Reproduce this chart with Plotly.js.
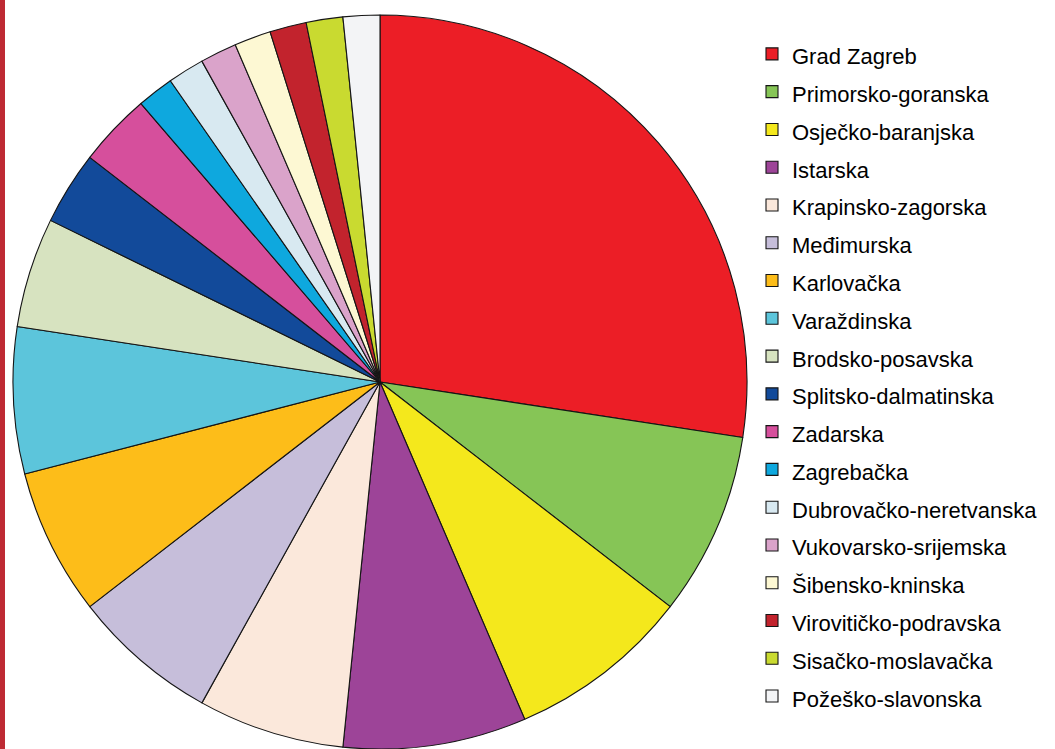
<!DOCTYPE html>
<html>
<head>
<meta charset="utf-8">
<script src="https://cdn.plot.ly/plotly-3.0.1.min.js"></script>
<style>
  html, body { margin: 0; padding: 0; background: #ffffff; }
  #chart { width: 1055px; height: 749px; }
</style>
</head>
<body>
<div id="chart"></div>
<script>
// Counties (županije) and their counts
const categories = [
  "Grad Zagreb", "Primorsko-goranska", "Osječko-baranjska", "Istarska",
  "Krapinsko-zagorska", "Međimurska", "Karlovačka", "Varaždinska",
  "Brodsko-posavska", "Splitsko-dalmatinska", "Zadarska", "Zagrebačka",
  "Dubrovačko-neretvanska", "Vukovarsko-srijemska", "Šibensko-kninska",
  "Virovitičko-podravska", "Sisačko-moslavačka", "Požeško-slavonska"
];
const values = [17, 5, 5, 5, 4, 4, 4, 4, 3, 2, 2, 1, 1, 1, 1, 1, 1, 1];
const sliceColors = [
  "#EC1E26", "#86C556", "#F4E81C", "#9D4498",
  "#FBE8DB", "#C6BEDA", "#FDBD19", "#5CC5DB",
  "#D7E3C0", "#124A9A", "#D64F9C", "#0EA8DE",
  "#D8E9F1", "#DAA3CA", "#FDF8D3", "#C2232D",
  "#C9DA30", "#F3F4F6"
];

const W = 1055, H = 749;
const legendLabels = categories.map(c => '<span style="font-size:22px">' + c + '</span>');

const trace = {
  type: "pie",
  labels: legendLabels,
  values: values,
  sort: false,
  direction: "clockwise",
  rotation: 0,
  textinfo: "none",
  hoverinfo: "none",
  marker: { colors: sliceColors, line: { color: "#151515", width: 1.1 } },
  domain: { x: [13 / W, 747 / W], y: [0, 734 / H] }
};

const layout = {
  width: W, height: H,
  margin: { l: 0, r: 0, t: 0, b: 0 },
  paper_bgcolor: "#ffffff",
  font: { family: "Liberation Sans, Arial, sans-serif", color: "#000000" },
  showlegend: true,
  legend: {
    x: 752 / W, xanchor: "left",
    y: 1 - 30 / H, yanchor: "top",
    font: { size: 26.75, family: "Liberation Sans, Arial, sans-serif", color: "#000000" },
    bgcolor: "rgba(0,0,0,0)",
    itemclick: false, itemdoubleclick: false
  },
  shapes: [{
    type: "rect", xref: "paper", yref: "paper",
    x0: 0, x1: 5 / W, y0: 0, y1: 1,
    fillcolor: "#BE2A33", line: { width: 0 }, layer: "above"
  }]
};

Plotly.newPlot("chart", [trace], layout, { staticPlot: true, displayModeBar: false });
</script>
</body>
</html>
